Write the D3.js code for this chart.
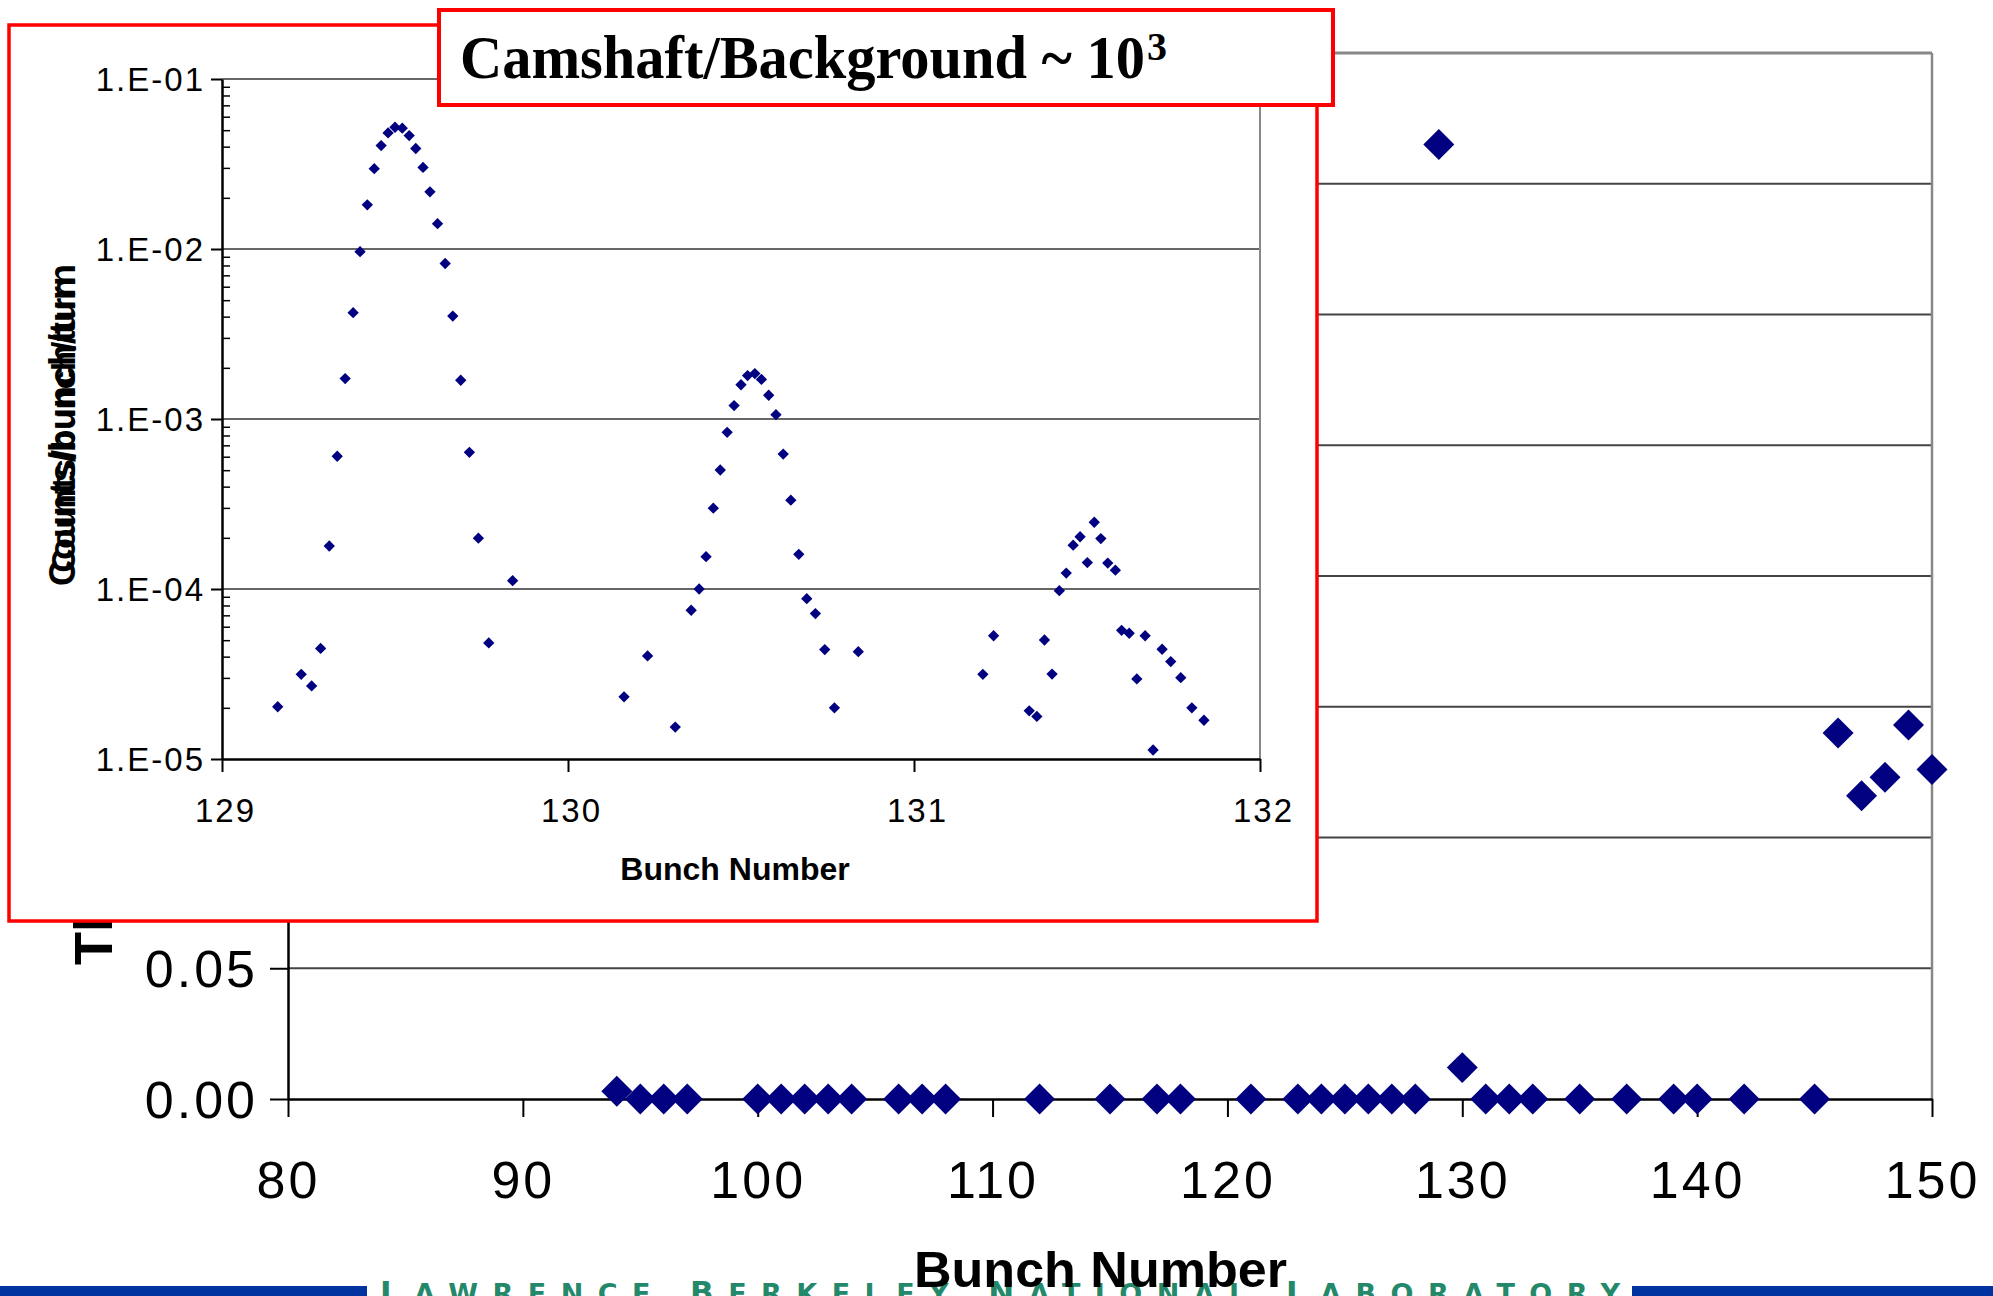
<!DOCTYPE html>
<html>
<head>
<meta charset="utf-8">
<script src="https://cdn.jsdelivr.net/npm/d3@7"></script>
<style>
  html, body { margin: 0; padding: 0; background: #fff; }
  svg { display: block; }
</style>
</head>
<body>
<svg id="chart" width="1993" height="1296"></svg>
<script>
// ---- Main scan: rate per bunch over bunches 80-150 ----
const mainBunch = [94, 95, 96, 97, 100, 101, 102, 103, 104, 106, 107, 108, 112, 115, 117, 118,
                   121, 123, 124, 125, 126, 127, 128, 129, 130, 131, 132, 133, 135, 137, 139, 140,
                   142, 145, 146, 147, 148, 149, 150];
const mainRate = [0.003, 0, 0, 0, 0, 0, 0, 0, 0, 0, 0, 0, 0, 0, 0, 0,
                  0, 0, 0, 0, 0, 0, 0, 0.365, 0.012, 0, 0, 0, 0, 0, 0, 0,
                  0, 0, 0.140, 0.116, 0.123, 0.143, 0.126];
const mainXTicks = [80, 90, 100, 110, 120, 130, 140, 150];
const mainYTicks = [0, 0.05, 0.10, 0.15, 0.20, 0.25, 0.30, 0.35, 0.40];
const mainYLabel = "Thin Target Counts/bunch/turn";
const mainXLabel = "Bunch Number";

// ---- Inset: fine scan of bunches 129-132, log scale ----
const insetBunch = [
  129.161, 129.229, 129.259, 129.285, 129.310, 129.333, 129.356, 129.379, 129.399, 129.420,
  129.440, 129.460, 129.480, 129.500, 129.521, 129.541, 129.560, 129.581, 129.601, 129.623,
  129.645, 129.667, 129.690, 129.715, 129.741, 129.771, 129.840,
  130.162, 130.230, 130.310, 130.356, 130.379, 130.399, 130.420, 130.440, 130.460, 130.480,
  130.500, 130.519, 130.540, 130.559, 130.580, 130.601, 130.622, 130.644, 130.667, 130.690,
  130.715, 130.742, 130.770, 130.839,
  131.199, 131.230, 131.333, 131.355, 131.377, 131.399, 131.420, 131.440, 131.460, 131.480,
  131.501, 131.521, 131.540, 131.560, 131.582, 131.600, 131.622, 131.644, 131.668, 131.691,
  131.717, 131.742, 131.771, 131.803, 131.838
];
const insetCounts = [
  2.03e-5, 3.15e-5, 2.69e-5, 4.47e-5, 1.79e-4, 6.04e-4, 1.73e-3, 4.22e-3, 9.64e-3, 1.82e-2,
  2.97e-2, 4.06e-2, 4.82e-2, 5.20e-2, 5.14e-2, 4.65e-2, 3.90e-2, 3.02e-2, 2.17e-2, 1.41e-2,
  8.22e-3, 4.03e-3, 1.69e-3, 6.37e-4, 1.99e-4, 4.82e-5, 1.12e-4,
  2.32e-5, 4.04e-5, 1.54e-5, 7.50e-5, 1.00e-4, 1.55e-4, 2.99e-4, 5.01e-4, 8.35e-4, 1.20e-3,
  1.59e-3, 1.80e-3, 1.85e-3, 1.71e-3, 1.38e-3, 1.06e-3, 6.22e-4, 3.33e-4, 1.60e-4, 8.77e-5,
  7.17e-5, 4.40e-5, 2.00e-5, 4.28e-5,
  3.15e-5, 5.31e-5, 1.92e-5, 1.78e-5, 5.01e-5, 3.16e-5, 9.78e-5, 1.24e-4, 1.81e-4, 2.03e-4,
  1.43e-4, 2.47e-4, 1.98e-4, 1.42e-4, 1.29e-4, 5.71e-5, 5.49e-5, 2.96e-5, 5.31e-5, 1.13e-5,
  4.42e-5, 3.74e-5, 3.01e-5, 2.00e-5, 1.69e-5
];
const insetXTicks = [129, 130, 131, 132];
const insetYTicks = [1e-1, 1e-2, 1e-3, 1e-4, 1e-5];
const insetYTickLabels = ["1.E-01", "1.E-02", "1.E-03", "1.E-04", "1.E-05"];
const insetXLabel = "Bunch Number";
const insetYLabel = "Counts/bunch/turn";

// ---- Headline and footer ----
const titleText = "Camshaft/Background ~ 10";
const titleExponent = "3";
const footerWords = ["Lawrence", "Berkeley", "National", "Laboratory"];

const NAVY = "#000080", RED = "#ff0000", SANS = "'Liberation Sans', Arial, sans-serif";
const svg = d3.select("#chart");

// ================= Main chart =================
const mx = d3.scaleLinear().domain([80, 150]).range([288, 1932]);
const my = d3.scaleLinear().domain([0, 0.40]).range([1099, 53]);
const main = svg.append("g");

// horizontal gridlines
main.selectAll("line.grid").data(mainYTicks.filter(v => v > 0 && v < 0.40)).join("line")
  .attr("x1", mx(80)).attr("x2", mx(150))
  .attr("y1", d => my(d)).attr("y2", d => my(d))
  .attr("stroke", "#444").attr("stroke-width", 2);
// plot frame (top and right)
main.append("line").attr("x1", mx(80)).attr("x2", mx(150)).attr("y1", my(0.40)).attr("y2", my(0.40))
  .attr("stroke", "#888").attr("stroke-width", 3);
main.append("line").attr("x1", mx(150)).attr("x2", mx(150)).attr("y1", my(0.40)).attr("y2", my(0))
  .attr("stroke", "#888").attr("stroke-width", 2.5);

// axes
const mxAxis = main.append("g").attr("transform", `translate(0,${my(0)})`)
  .call(d3.axisBottom(mx).tickValues(mainXTicks).tickSize(18).tickSizeOuter(0).tickFormat(d3.format("d")));
const myAxis = main.append("g").attr("transform", `translate(${mx(80)},0)`)
  .call(d3.axisLeft(my).tickValues(mainYTicks).tickSize(18).tickSizeOuter(0).tickFormat(d3.format(".2f")));
[mxAxis, myAxis].forEach(a => {
  a.select(".domain").attr("stroke", "#000").attr("stroke-width", 2.5);
  a.selectAll(".tick line").attr("stroke", "#000").attr("stroke-width", 2);
  a.selectAll("text").attr("font-family", SANS).attr("font-size", 52)
    .attr("letter-spacing", 3).attr("fill", "#000");
});
mxAxis.selectAll("text").attr("y", 62).attr("dy", "0.71em");
myAxis.selectAll("text").attr("x", -30).attr("dy", "0.35em");

// markers
const bigDiamond = d3.symbol().type(d3.symbolSquare).size(480);
main.selectAll("path.pt").data(mainBunch.map((b, i) => [b, mainRate[i]])).join("path")
  .attr("d", bigDiamond)
  .attr("transform", d => `translate(${mx(d[0])},${my(d[1])}) rotate(45)`)
  .attr("fill", NAVY);

// y title (mostly covered by the inset panel)
main.append("text").attr("transform", "translate(112,965) rotate(-90)")
  .attr("font-family", SANS).attr("font-weight", "bold").attr("font-size", 54)
  .text(mainYLabel);

// ================= Footer =================
const foot = svg.append("g");
foot.append("rect").attr("x", 0).attr("y", 1286).attr("width", 367).attr("height", 10).attr("fill", "#0033a0");
foot.append("rect").attr("x", 1632).attr("y", 1286).attr("width", 361).attr("height", 10).attr("fill", "#0033a0");
const ft = foot.append("text").attr("x", 380).attr("y", 1302.5)
  .attr("font-family", "'DejaVu Sans', sans-serif").attr("font-weight", "bold").attr("fill", "#23896a")
  .attr("textLength", 1240).attr("lengthAdjust", "spacing");
footerWords.forEach((w, i) => {
  ft.append("tspan").attr("font-size", 31).text((i ? " " : "") + w[0].toUpperCase());
  ft.append("tspan").attr("font-size", 27).text(w.slice(1).toUpperCase());
});

// main x title drawn over the footer text
svg.append("text").attr("x", 914).attr("y", 1287)
  .attr("font-family", SANS).attr("font-weight", "bold").attr("font-size", 50)
  .attr("textLength", 373).attr("lengthAdjust", "spacingAndGlyphs")
  .text(mainXLabel);

// ================= Inset =================
const ix = d3.scaleLinear().domain([129, 132]).range([222, 1260]);
const iy = d3.scaleLog().domain([1e-5, 1e-1]).range([759, 79]);
const inset = svg.append("g");
inset.append("rect").attr("x", 9).attr("y", 25).attr("width", 1308).attr("height", 896)
  .attr("fill", "#fff").attr("stroke", RED).attr("stroke-width", 3.5);

// decade gridlines
inset.selectAll("line.grid").data(insetYTicks.filter(v => v > 1e-5)).join("line")
  .attr("x1", ix(129)).attr("x2", ix(132))
  .attr("y1", d => iy(d)).attr("y2", d => iy(d))
  .attr("stroke", "#666").attr("stroke-width", 2);
inset.append("line").attr("x1", ix(132)).attr("x2", ix(132)).attr("y1", iy(1e-1)).attr("y2", iy(1e-5))
  .attr("stroke", "#888").attr("stroke-width", 2);

// log minor ticks (inside) 2..9 per decade
const minorVals = [];
[1e-5, 1e-4, 1e-3, 1e-2].forEach(dec => { for (let k = 2; k <= 9; k++) minorVals.push(dec * k); });
inset.append("g").attr("transform", `translate(${ix(129)},0)`)
  .call(d3.axisRight(iy).tickValues(minorVals).tickSize(8).tickFormat(""))
  .call(g => { g.select(".domain").remove(); g.selectAll("line").attr("stroke", "#000").attr("stroke-width", 1.5); });

const iyAxis = inset.append("g").attr("transform", `translate(${ix(129)},0)`)
  .call(d3.axisLeft(iy).tickValues(insetYTicks).tickSize(11).tickSizeOuter(0)
    .tickFormat((d, i) => insetYTickLabels[i]));
const ixAxis = inset.append("g").attr("transform", `translate(0,${iy(1e-5)})`)
  .call(d3.axisBottom(ix).tickValues(insetXTicks).tickSize(13).tickSizeOuter(0).tickFormat(d3.format("d")));
[ixAxis, iyAxis].forEach(a => {
  a.select(".domain").attr("stroke", "#000").attr("stroke-width", 2.5);
  a.selectAll(".tick line").attr("stroke", "#000").attr("stroke-width", 2);
  a.selectAll("text").attr("font-family", SANS).attr("font-size", 33)
    .attr("letter-spacing", 2).attr("fill", "#000");
});
iyAxis.selectAll("text").attr("x", -17).attr("dy", "0.35em");
ixAxis.selectAll("text").attr("x", 3).attr("y", 40).attr("dy", "0.71em");

const smallDiamond = d3.symbol().type(d3.symbolSquare).size(64);
inset.selectAll("path.pt").data(insetBunch.map((b, i) => [b, insetCounts[i]])).join("path")
  .attr("d", smallDiamond)
  .attr("transform", d => `translate(${ix(d[0])},${iy(d[1])}) rotate(45)`)
  .attr("fill", NAVY);

inset.append("text").attr("x", (ix(129) + ix(132)) / 2 - 6).attr("y", 880)
  .attr("text-anchor", "middle").attr("font-family", SANS).attr("font-weight", "bold")
  .attr("font-size", 32).text(insetXLabel);
// doubled y title (two overlapping copies of slightly different size)
[36, 33].forEach(fs => {
  inset.append("text").attr("transform", "translate(75,425) rotate(-90)")
    .attr("text-anchor", "middle").attr("font-family", SANS).attr("font-weight", "bold")
    .attr("font-size", fs).text(insetYLabel);
});

// ================= Headline box =================
const head = svg.append("g");
head.append("rect").attr("x", 439).attr("y", 10).attr("width", 894).attr("height", 95)
  .attr("fill", "#fff").attr("stroke", RED).attr("stroke-width", 4);
head.append("text").attr("x", 460).attr("y", 78)
  .attr("font-family", "'Liberation Serif', 'Times New Roman', serif").attr("font-weight", "bold")
  .attr("font-size", 62).attr("textLength", 685).attr("lengthAdjust", "spacingAndGlyphs")
  .text(titleText);
head.append("text").attr("x", 1147).attr("y", 60)
  .attr("font-family", "'Liberation Serif', 'Times New Roman', serif").attr("font-weight", "bold")
  .attr("font-size", 40).text(titleExponent);
</script>
</body>
</html>
